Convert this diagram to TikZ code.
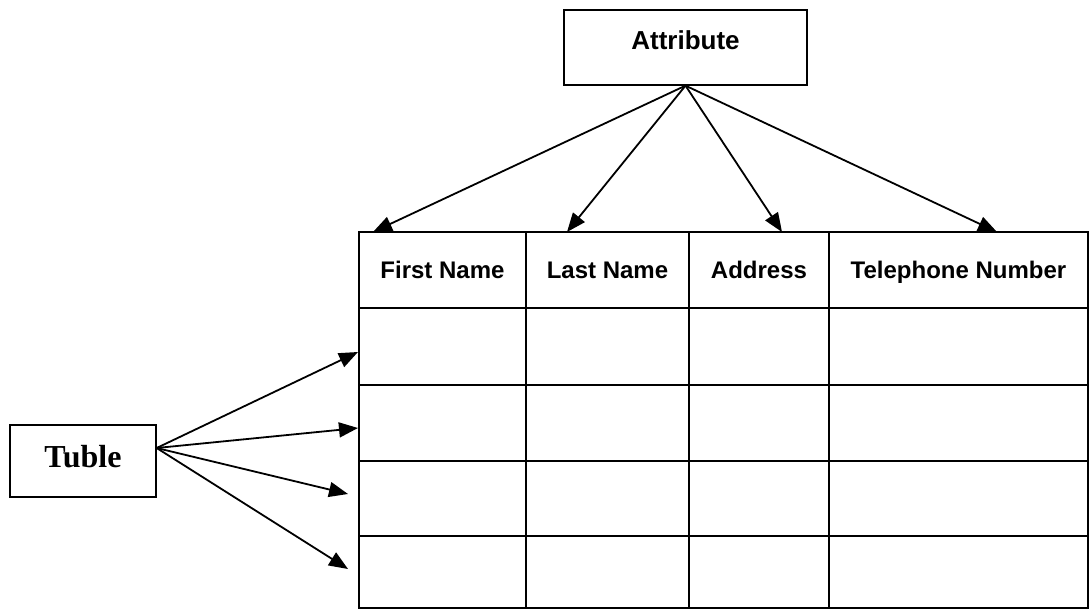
\documentclass[tikz,border=0pt]{standalone}
\usepackage{fontspec}
\setmainfont{Liberation Serif}
\setsansfont{Liberation Sans}
\usetikzlibrary{arrows.meta}

\tikzset{
  box/.style={draw, line width=1.3pt, inner sep=0pt},
  head/.style={font=\sffamily\bfseries\fontsize{24}{28}\selectfont, text height=17pt, text depth=5pt},
  link/.style={line width=1.8pt, -{Triangle[length=19pt, width=15pt]}}
}

\begin{document}
\begin{tikzpicture}[x=1pt, y=-1pt]
  \useasboundingbox (0,0) rectangle (1092,610);
  % boxes
  \node[box, minimum width=243pt, minimum height=75pt, text depth=15pt,
        font=\sffamily\bfseries\fontsize{26}{30}\selectfont] (attr) at (685.5,47.5) {Attribute};
  \node[box, minimum width=146pt, minimum height=72pt, text depth=10pt,
        font=\rmfamily\bfseries\fontsize{32}{36}\selectfont] (tuble) at (83,461) {Tuble};
  % table grid
  \draw [line width=1.2pt, black] (359,232) rectangle (1088,608);
  \foreach \x in {526,689,829} {
    \draw [line width=1.2pt] (\x,232)--(\x,608);
  }
  \foreach \y in {308,385,461,536} {
    \draw [line width=1.2pt] (359,\y)--(1088,\y);
  }
  % header
  \foreach \x/\l/\n in {442.5/First Name/fn,607.5/Last Name/ln,759/Address/ad,958.5/Telephone Number/tn} {
    \node[head] (\n) at (\x,272) {\l};
  }
  % arrow ends
  \foreach \n/\x in {fn/373,ln/567,ad/782,tn/997} {
    \coordinate (\n tip) at (\x,232);
  }
  \foreach \r/\x/\y in {1/358/352,2/358/428,3/348/494,4/348/569} {
    \coordinate (row\r) at (\x,\y);
  }
  \coordinate (tsrc) at ([yshift=13pt]tuble.east);
  % arrows
  \foreach \n in {fn,ln,ad,tn} {
    \draw [link] (attr.south)--(\n tip);
  }
  \foreach \r in {1,...,4} {
    \draw [link] (tsrc)--(row\r);
  }
\end{tikzpicture}
\end{document}
